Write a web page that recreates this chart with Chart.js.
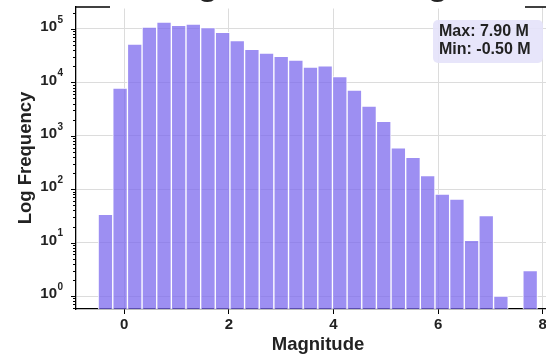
<!DOCTYPE html>
<html lang="en">
<head>
    <meta charset="UTF-8">
    <title>Magnitude Histogram</title>
    <script src="https://cdn.jsdelivr.net/npm/chart.js@4"></script>
    <style>
        html, body { margin: 0; padding: 0; background: #fff; overflow: hidden; }
        .chart-wrap { position: relative; width: 546px; height: 358px; overflow: hidden; }
        #magChart { position: absolute; left: 0; top: -40px; }
    </style>
</head>
<body>
    <div class="chart-wrap">
        <canvas id="magChart" width="575" height="398"></canvas>
    </div>

    <script>
        // Histogram bins (magnitude) and event counts per bin
        const binEdges = [-0.50, -0.22, 0.06, 0.34, 0.62, 0.90, 1.18, 1.46, 1.74, 2.02,
                          2.30, 2.58, 2.86, 3.14, 3.42, 3.70, 3.98, 4.26, 4.54, 4.82,
                          5.10, 5.38, 5.66, 5.94, 6.22, 6.50, 6.78, 7.06, 7.34, 7.62, 7.90];
        const counts = [34, 7850, 52000, 108000, 135000, 117000, 124000, 106000, 86700, 60400,
                        41700, 35500, 30800, 26300, 19400, 20500, 12800, 7200, 3610, 1870,
                        598, 396, 179, 81, 65, 11, 32, 1, 0, 3];
        const xTickValues = [0, 2, 4, 6, 8];
        const yTickExponents = [0, 1, 2, 3, 4, 5];
        const maxMag = 7.90;
        const minMag = -0.50;
        const titleText = 'Magnitude Histogram';

        const textColor = '#222';
        const fontFamily = '"Liberation Sans", Arial, sans-serif';

        function isPow10(v) {
            const l = Math.log10(v);
            return Math.abs(l - Math.round(l)) < 1e-9;
        }
        function isWholeMantissa(v) {
            const m = v / Math.pow(10, Math.floor(Math.log10(v) + 1e-9));
            return Math.abs(m - Math.round(m)) < 1e-6;
        }

        // Draws log-axis ticks and 10^n labels, the top frame line, title and the stats box
        const decorations = {
            id: 'decorations',
            afterDraw(chart) {
                const { ctx, chartArea: a, scales: { y } } = chart;
                ctx.save();

                // y ticks: long for decades, short for minor steps
                ctx.strokeStyle = '#000';
                ctx.lineWidth = 1;
                y.ticks.forEach(t => {
                    if (!isWholeMantissa(t.value)) return;
                    const py = Math.round(y.getPixelForValue(t.value)) + 0.5;
                    const len = isPow10(t.value) ? 5 : 3;
                    ctx.beginPath();
                    ctx.moveTo(a.left - len, py);
                    ctx.lineTo(a.left, py);
                    ctx.stroke();
                });

                // 10^n labels
                ctx.fillStyle = textColor;
                yTickExponents.forEach(k => {
                    const py = y.getPixelForValue(Math.pow(10, k));
                    ctx.font = 'bold 15px ' + fontFamily;
                    ctx.textAlign = 'right';
                    ctx.textBaseline = 'middle';
                    ctx.fillText('10', a.left - 19, py - 2);
                    ctx.font = 'bold 10px ' + fontFamily;
                    ctx.textAlign = 'left';
                    ctx.fillText(String(k), a.left - 18.5, py - 9);
                });

                // top frame line
                ctx.strokeStyle = '#000';
                ctx.lineWidth = 1.3;
                ctx.beginPath();
                ctx.moveTo(a.left, a.top);
                ctx.lineTo(a.right, a.top);
                ctx.stroke();

                // title on a white backing
                const cx = (a.left + a.right) / 2 + 13;
                ctx.fillStyle = '#fff';
                ctx.fillRect(a.left + 34, 0, 415, a.top + 1.5);
                ctx.fillStyle = textColor;
                ctx.font = 'bold 36px ' + fontFamily;
                ctx.textAlign = 'center';
                ctx.textBaseline = 'alphabetic';
                ctx.fillText(titleText, cx, a.top - 13);

                // stats box
                const bx = a.right - 127, by = a.top + 13, bw = 110, bh = 43;
                ctx.fillStyle = 'rgba(228, 226, 250, 0.9)';
                ctx.beginPath();
                ctx.roundRect(bx, by, bw, bh, 5);
                ctx.fill();
                ctx.fillStyle = textColor;
                ctx.font = 'bold 16px ' + fontFamily;
                ctx.textAlign = 'left';
                ctx.textBaseline = 'middle';
                ctx.fillText('Max: ' + maxMag.toFixed(2) + ' M', bx + 6, by + 12);
                ctx.fillText('Min: ' + minMag.toFixed(2) + ' M', bx + 6, by + 30);

                ctx.restore();
            }
        };

        const barData = counts.map((c, i) => ({
            x: (binEdges[i] + binEdges[i + 1]) / 2,
            y: c > 0 ? c : null
        }));

        new Chart(document.getElementById('magChart'), {
            type: 'bar',
            data: {
                datasets: [{
                    data: barData,
                    backgroundColor: 'rgba(123, 104, 238, 0.74)',
                    borderColor: 'rgba(255, 255, 255, 0.85)',
                    borderWidth: 1,
                    barPercentage: 1,
                    categoryPercentage: 1
                }]
            },
            options: {
                responsive: false,
                animation: false,
                layout: { padding: { top: 47, left: 0, right: 15, bottom: 0 } },
                plugins: {
                    legend: { display: false },
                    tooltip: { enabled: false }
                },
                scales: {
                    x: {
                        type: 'linear',
                        min: -0.923,
                        max: 8.33,
                        offset: false,
                        afterBuildTicks: s => { s.ticks = xTickValues.map(v => ({ value: v })); },
                        afterFit: s => { s.height = 49; },
                        grid: {
                            offset: false,
                            color: '#dcdcdc',
                            lineWidth: 1,
                            tickColor: '#000',
                            tickLength: 5
                        },
                        border: { color: '#000', width: 1.3 },
                        ticks: {
                            padding: 2,
                            color: textColor,
                            font: { family: fontFamily, size: 15, weight: 'bold' }
                        },
                        title: {
                            display: true,
                            text: 'Magnitude',
                            color: textColor,
                            font: { family: fontFamily, size: 18.5, weight: 'bold' },
                            padding: { top: 0, bottom: 2 }
                        }
                    },
                    y: {
                        type: 'logarithmic',
                        min: 0.571,
                        max: 258000,
                        afterFit: s => { s.width = 76; },
                        grid: {
                            drawTicks: false,
                            color: c => (c.tick && isPow10(c.tick.value)) ? '#dcdcdc' : 'rgba(0,0,0,0)',
                            lineWidth: 1
                        },
                        border: { color: '#000', width: 1.3 },
                        ticks: { display: false, autoSkip: false },
                        title: {
                            display: true,
                            text: 'Log Frequency',
                            color: textColor,
                            font: { family: fontFamily, size: 18.5, weight: 'bold' },
                            padding: { top: 15, bottom: 0 }
                        }
                    }
                }
            },
            plugins: [decorations]
        });
    </script>
</body>
</html>
